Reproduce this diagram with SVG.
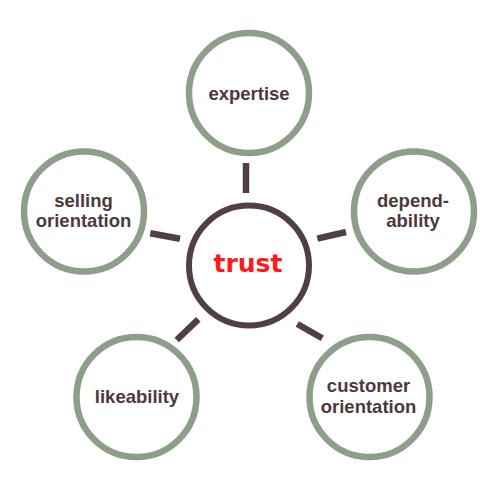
<svg xmlns="http://www.w3.org/2000/svg" width="500" height="500" viewBox="0 0 500 500">
  <style>
    .outer { fill: #ffffff; stroke: #8d9e89; stroke-width: 6.5; }
    .center { fill: #ffffff; stroke: #523f40; stroke-width: 6; }
    .stub { stroke: #523f40; stroke-width: 6.5; stroke-linecap: butt; fill: none; }
    .label { font-family: "Liberation Sans", Arial, sans-serif; font-weight: bold; font-size: 18.5px; fill: #4d393a; text-anchor: middle; }
    .trust { font-family: "DejaVu Sans", Verdana, sans-serif; font-weight: bold; font-size: 25px; fill: #ff1a1a; text-anchor: middle; }
  </style>
  <rect width="500" height="500" fill="#ffffff"/>
  <g id="connectors">
    <line class="stub" x1="246" y1="163" x2="246" y2="193"/>
    <line class="stub" x1="317.3" y1="238.7" x2="346" y2="232"/>
    <line class="stub" x1="150.3" y1="233.3" x2="180" y2="238.7"/>
    <line class="stub" x1="176.7" y1="340" x2="198.3" y2="319.3"/>
    <line class="stub" x1="297.3" y1="324" x2="322.3" y2="338.3"/>
  </g>
  <g id="trust">
    <circle class="center" cx="249" cy="265.5" r="60"/>
    <text class="trust" x="248" y="272">trust</text>
  </g>
  <g id="expertise">
    <circle class="outer" cx="249" cy="93" r="60"/>
    <text class="label" x="249" y="100">expertise</text>
  </g>
  <g id="dependability">
    <circle class="outer" cx="414" cy="211.5" r="60"/>
    <text class="label" x="413" y="206.7">depend-</text>
    <text class="label" x="413" y="227.3">ability</text>
  </g>
  <g id="selling-orientation">
    <circle class="outer" cx="84" cy="211.5" r="60"/>
    <text class="label" x="83.5" y="206.7">selling</text>
    <text class="label" x="83.5" y="227.3">orientation</text>
  </g>
  <g id="likeability">
    <circle class="outer" cx="136.5" cy="397" r="60"/>
    <text class="label" x="137" y="402.7">likeability</text>
  </g>
  <g id="customer-orientation">
    <circle class="outer" cx="369.5" cy="397" r="60"/>
    <text class="label" x="368.5" y="391.7">customer</text>
    <text class="label" x="368.5" y="413.3">orientation</text>
  </g>
</svg>
